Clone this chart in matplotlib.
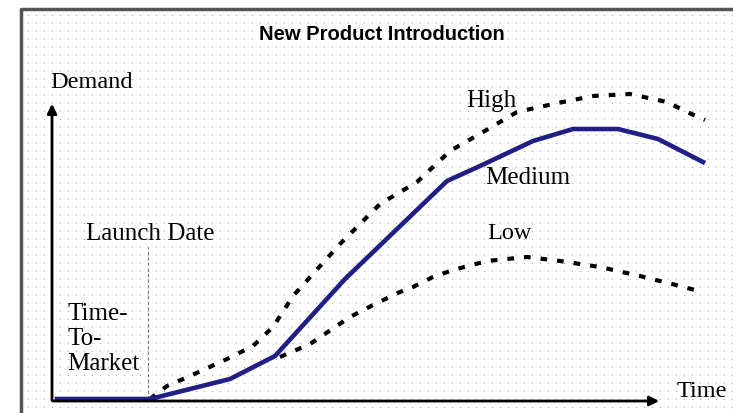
import numpy as np
import matplotlib
matplotlib.use('Agg')
from matplotlib import pyplot as plt

# curves (time, demand), origin = where the axes meet
med_t = [5, 98, 178, 223, 293, 395, 428, 481, 521, 566, 606, 651]
med_d = [2, 2, 22, 45, 122, 220, 235, 260, 272, 272, 262, 239]
high_t = [98, 115, 138, 175, 201, 221, 241, 288, 328, 365, 398, 431, 465, 501, 541, 578, 615, 635, 653]
high_d = [2, 15, 25, 42, 55, 74, 105, 157, 197, 219, 250, 269, 289, 297, 305, 307, 299, 289, 281]
low_t = [228, 258, 298, 323, 348, 361, 381, 401, 435, 475, 508, 548, 588, 628, 650]
low_d = [44, 57, 84, 97, 109, 114, 124, 131, 140, 144, 140, 134, 125, 115, 109]
launch_t = 96

fig = plt.figure(figsize=(7.33, 4.14), dpi=100)
ax = fig.add_axes([0, 0, 1, 1])
ax.set_xlim(-52, 733 - 52)
ax.set_ylim(402 - 414, 402)
ax.axis('off')

# dotted background + frame (positions in image pixels)
gx, gy = np.meshgrid(np.arange(28, 733, 8), np.arange(16, 414, 8))
ax.scatter(gx.ravel() - 52, 402 - gy.ravel(), s=1.0, color='#b0b0b0', lw=0, zorder=0)
ax.plot([21 - 52, 21 - 52, 733 - 52], [402 - 414, 402 - 10, 402 - 10], color='#555555', lw=2.5,
        zorder=1, solid_capstyle='butt')

# axes arrows
ax.annotate('', xy=(0, 300), xytext=(0, -2),
            arrowprops=dict(arrowstyle='-|>', color='black', lw=2, mutation_scale=14))
ax.annotate('', xy=(610, 0), xytext=(-2, 0),
            arrowprops=dict(arrowstyle='-|>', color='black', lw=2, mutation_scale=14))

ax.plot([launch_t, launch_t], [2, 154], color='#777777', lw=0.8, ls=(0, (3, 2)))

ax.plot(high_t, high_d, color='black', lw=3, ls=(0, (1.6, 2.4)))
ax.plot(low_t, low_d, color='black', lw=3, ls=(0, (1.6, 2.4)))
ax.plot(med_t, med_d, color='#1f1f85', lw=3.3, solid_joinstyle='round')

serif = 'Liberation Serif'
ax.text(382 - 52, 402 - 35, 'New Product Introduction', family='Liberation Sans', weight='bold',
        fontsize=14.5, ha='center', va='center')
ax.text(50 - 52, 402 - 82, 'Demand', family=serif, fontsize=17.5, va='center')
ax.text(466 - 52, 402 - 101, 'High', family=serif, fontsize=18, va='center')
ax.text(485 - 52, 402 - 178, 'Medium', family=serif, fontsize=18, va='center')
ax.text(487 - 52, 402 - 234, 'Low', family=serif, fontsize=17.5, va='center')
ax.text(86 - 52, 402 - 234, 'Launch Date', family=serif, fontsize=18, va='center')
ax.text(67 - 52, 402 - 339, 'Time-\nTo-\nMarket', family=serif, fontsize=18, va='center',
        linespacing=1.15)
ax.text(677 - 52, 402 - 392, 'Time', family=serif, fontsize=17.5, va='center')

fig.savefig('out.png', dpi=100)
